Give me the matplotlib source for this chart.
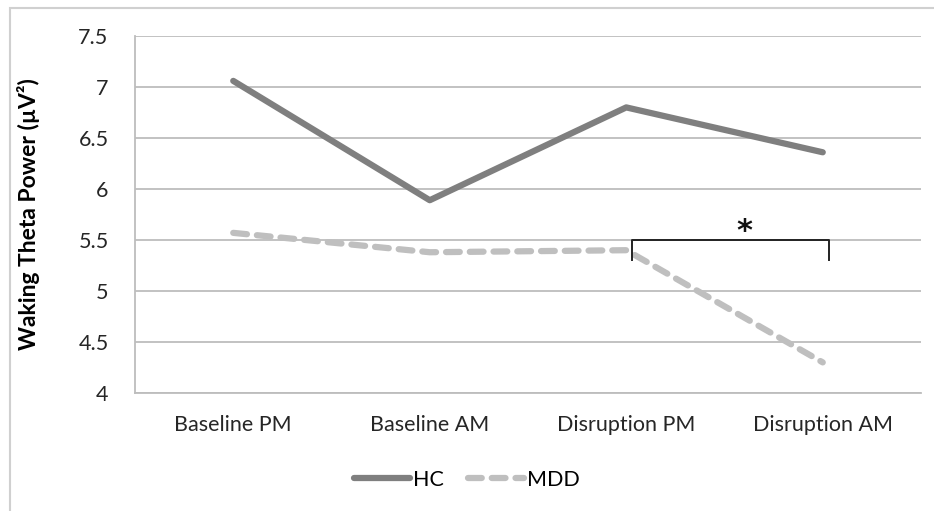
import matplotlib.pyplot as plt
from matplotlib.patches import Rectangle

categories = ["Baseline PM", "Baseline AM", "Disruption PM", "Disruption AM"]
hc = [7.06, 5.89, 6.80, 6.36]
mdd = [5.57, 5.38, 5.40, 4.30]
yticks = [4, 4.5, 5, 5.5, 6, 6.5, 7, 7.5]
ytick_labels = ["4", "4.5", "5", "5.5", "6", "6.5", "7", "7.5"]

plt.rcParams['font.family'] = ['Lato', 'DejaVu Sans']

fig = plt.figure(figsize=(9.34, 5.11), dpi=100)
W, H = 934, 511
ax = fig.add_axes([135 / W, 1 - 393 / H, (921 - 135) / W, (393 - 36) / H])

# outer frame of the original chart
fig.patches.append(Rectangle((10 / W, -0.1), 1.2, 1 - 8 / H + 0.1, transform=fig.transFigure,
                             fill=False, edgecolor='#d0d0d0', linewidth=1.5))

x = range(len(categories))
ax.plot(x, hc, color='#7f7f7f', linewidth=4.5, solid_capstyle='round', label='HC')
ax.plot(x, mdd, color='#bfbfbf', linewidth=4.5, linestyle=(0, (2.2, 1.6)),
        dash_capstyle='round', label='MDD')

ax.set_xlim(-0.5, 3.5)
ax.set_ylim(4, 7.5)
ax.set_yticks(yticks)
ax.set_yticklabels(ytick_labels)
ax.set_xticks(list(x))
ax.set_xticklabels(categories)
ax.tick_params(axis='both', length=0, labelsize=15.5, colors='#262626')
ax.tick_params(axis='x', pad=16)
ax.tick_params(axis='y', pad=19)
ax.grid(axis='y', color='#bdbdbd', linewidth=1.3)
ax.set_axisbelow(True)
for s in ['top', 'right']:
    ax.spines[s].set_visible(False)
for s in ['left', 'bottom']:
    ax.spines[s].set_color('#bdbdbd')
    ax.spines[s].set_linewidth(1.3)

ax.set_ylabel("Waking Theta Power (µV²)", fontsize=16.5, fontweight='bold', labelpad=14)
ax.yaxis.set_label_coords(-(135 - 40) / (921 - 135), 0.5)

# significance bracket
ax.plot([2.03, 2.03, 3.03, 3.03], [5.3, 5.5, 5.5, 5.3], color='#222222', linewidth=1.4)
ax.text(2.6, 5.58, "*", ha='center', va='center', fontsize=22, fontweight='bold',
        family='DejaVu Sans', color='#111111')

fig.legend(loc='center', bbox_to_anchor=(0.5, 1 - 480 / H), ncol=2, frameon=False,
           fontsize=15.5, handlelength=2.6, columnspacing=1.1, handletextpad=0.15)

fig.savefig("out.png", dpi=100)
